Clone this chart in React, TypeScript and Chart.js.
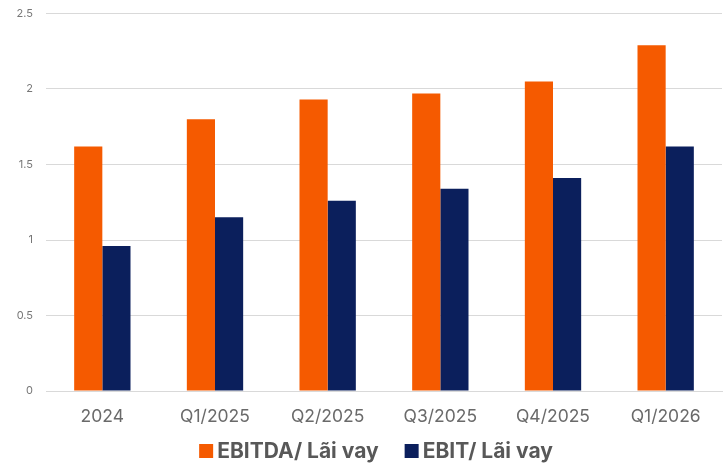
import React, { useEffect, useRef } from "react";
import { Chart, registerables } from "chart.js";

Chart.register(...registerables);

const categories = ["2024", "Q1/2025", "Q2/2025", "Q3/2025", "Q4/2025", "Q1/2026"];
const ebitdaValues = [1.62, 1.8, 1.93, 1.97, 2.05, 2.29];
const ebitValues = [0.96, 1.15, 1.26, 1.34, 1.41, 1.62];
const seriesNames = ["EBITDA/ Lãi vay", "EBIT/ Lãi vay"];
const seriesColors = ["#F55A00", "#0B1F5C"];
const yTicks = [0, 0.5, 1, 1.5, 2, 2.5];

const FONT = "Inter, Roboto, 'Liberation Sans', sans-serif";

const legendPlugin = {
  id: "customLegend",
  afterDraw(chart: any) {
    const ctx = chart.ctx as CanvasRenderingContext2D;
    const ca = chart.chartArea;
    const box = 14;
    const gapBoxText = 4;
    const gapItems = 26;
    ctx.save();
    ctx.font = `bold 21px ${FONT}`;
    ctx.textBaseline = "middle";
    ctx.textAlign = "left";
    const items = chart.data.datasets.map((d: any) => ({
      text: d.label as string,
      color: d.backgroundColor as string,
      w: ctx.measureText(d.label).width,
    }));
    const total =
      items.reduce((a: number, it: any) => a + box + gapBoxText + it.w, 0) + gapItems * (items.length - 1);
    let x = (ca.left + ca.right) / 2 - 8 - total / 2;
    const yMid = 451;
    for (const it of items) {
      ctx.fillStyle = it.color;
      ctx.fillRect(x, yMid - box / 2, box, box);
      x += box + gapBoxText;
      ctx.fillStyle = "#585858";
      ctx.fillText(it.text, x, yMid + 1);
      x += it.w + gapItems;
    }
    ctx.restore();
  },
};

export default function App() {
  const ref = useRef<HTMLCanvasElement | null>(null);
  useEffect(() => {
    document.body.style.margin = "0";
    const ctx = ref.current;
    if (!ctx) return;
    const chart = new Chart(ctx, {
      type: "bar",
      data: {
        labels: categories,
        datasets: [
          {
            label: seriesNames[0],
            data: ebitdaValues,
            backgroundColor: seriesColors[0],
            categoryPercentage: 0.5,
            barPercentage: 1,
          },
          {
            label: seriesNames[1],
            data: ebitValues,
            backgroundColor: seriesColors[1],
            categoryPercentage: 0.5,
            barPercentage: 1,
          },
        ],
      },
      plugins: [legendPlugin],
      options: {
        animation: false,
        responsive: false,
        maintainAspectRatio: false,
        layout: { padding: { top: 13.5, right: 2, left: 0, bottom: 31 } },
        plugins: {
          tooltip: { enabled: false },
          legend: { display: false },
        },
        scales: {
          x: {
            grid: { display: false },
            border: { display: true, color: "#D9D9D9" },
            ticks: {
              color: "#6A6A6A",
              padding: 7,
              font: { family: FONT, size: 17.5 },
            },
          },
          y: {
            min: 0,
            max: 2.5,
            afterFit: (s: any) => {
              s.width = 46;
              s.paddingTop = 0;
              s.paddingBottom = 0;
            },
            afterBuildTicks: (s: any) => {
              s.ticks = yTicks.map((v) => ({ value: v }));
            },
            grid: { color: "#D9D9D9", drawTicks: false },
            border: { display: false },
            ticks: {
              color: "#777777",
              padding: 13,
              font: { family: FONT, size: 11 },
              callback: (v: any) => String(v),
            },
          },
        },
      },
    });
    return () => chart.destroy();
  }, []);
  return (
    <div style={{ position: "absolute", left: 0, top: 0, width: 724, height: 465, background: "#fff" }}>
      <canvas ref={ref} width={724} height={465} style={{ width: 724, height: 465 }} />
    </div>
  );
}
